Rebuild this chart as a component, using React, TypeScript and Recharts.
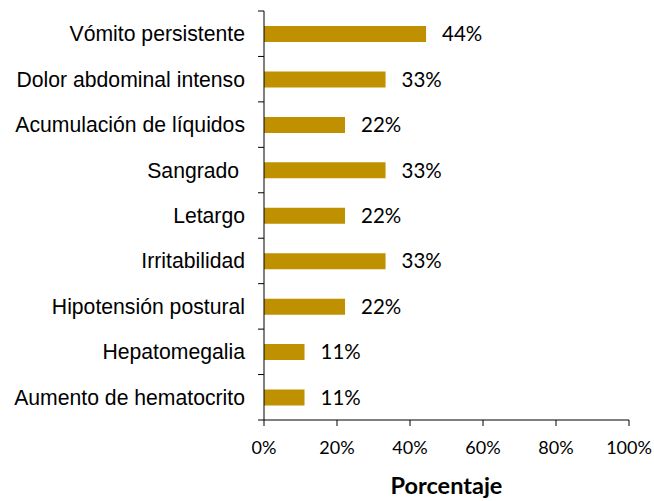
import React from 'react';
import { BarChart, Bar, XAxis, YAxis, LabelList } from 'recharts';

const categories = [
  'Vómito persistente',
  'Dolor abdominal intenso',
  'Acumulación de líquidos',
  'Sangrado ',
  'Letargo',
  'Irritabilidad',
  'Hipotensión postural',
  'Hepatomegalia',
  'Aumento de hematocrito',
];
const values = [44.4, 33.3, 22.2, 33.3, 22.2, 33.3, 22.2, 11.1, 11.1];
const xTicks = [0, 20, 40, 60, 80, 100];

const data = categories.map((name, i) => ({ name, value: values[i] }));

const W = 654;
const H = 501;
const M_TOP = 11;
const PLOT_BOTTOM = 420;
const X_AXIS_H = 40;
const M_BOTTOM = H - PLOT_BOTTOM - X_AXIS_H;
const Y_AXIS_W = 254;
const M_LEFT = 264 - Y_AXIS_W;
const M_RIGHT = 25;
const HALF_BAND = (PLOT_BOTTOM - M_TOP) / categories.length / 2;
const TICK_MARGIN = 13;
const TICK_SIZE = 6;

const CatTick = (props: any) => {
  const { x, y, payload, index } = props;
  const axisX = x + TICK_MARGIN + TICK_SIZE;
  return (
    <g>
      <line x1={axisX - TICK_SIZE} x2={axisX} y1={y - HALF_BAND} y2={y - HALF_BAND} stroke="#000" strokeWidth={1} />
      {index === categories.length - 1 && (
        <line x1={axisX - TICK_SIZE} x2={axisX} y1={y + HALF_BAND} y2={y + HALF_BAND} stroke="#000" strokeWidth={1} />
      )}
      <text
        x={x}
        y={y}
        dy="0.355em"
        textAnchor="end"
        fontFamily="'Liberation Sans', Arial, sans-serif"
        fontSize={21.2}
        fill="#000"
        style={{ whiteSpace: 'pre' }}
      >
        {payload.value}
      </text>
    </g>
  );
};

export default function App() {
  return (
    <div style={{ width: W, height: H }}>
      <style>{`body{margin:0;}`}</style>
      <BarChart
        width={W}
        height={H}
        data={data}
        layout="vertical"
        margin={{ top: M_TOP, right: M_RIGHT, bottom: M_BOTTOM, left: M_LEFT }}
      >
        <XAxis
          type="number"
          domain={[0, 100]}
          ticks={xTicks}
          interval={0}
          tickFormatter={(v: number) => `${v}%`}
          height={X_AXIS_H}
          tickSize={6}
          tickMargin={15}
          axisLine={{ stroke: '#000' }}
          tickLine={{ stroke: '#000' }}
          tick={{ fill: '#000', fontFamily: 'Lato, sans-serif', fontSize: 18 }}
          label={{
            value: 'Porcentaje',
            position: 'bottom',
            offset: 17,
            fill: '#000',
            fontFamily: 'Lato, sans-serif',
            fontWeight: 'bold',
            fontSize: 23.5,
          }}
        />
        <YAxis
          type="category"
          dataKey="name"
          width={Y_AXIS_W}
          interval={0}
          tickSize={TICK_SIZE}
          tickMargin={TICK_MARGIN}
          tickLine={false}
          axisLine={{ stroke: '#000' }}
          tick={<CatTick />}
        />
        <Bar dataKey="value" fill="#BF9000" barSize={16} isAnimationActive={false}>
          <LabelList
            dataKey="value"
            position="right"
            offset={16}
            formatter={(v: number) => `${Math.round(v)}%`}
            fill="#000"
            fontFamily="Lato, sans-serif"
            fontSize={20.5}
          />
        </Bar>
      </BarChart>
    </div>
  );
}
